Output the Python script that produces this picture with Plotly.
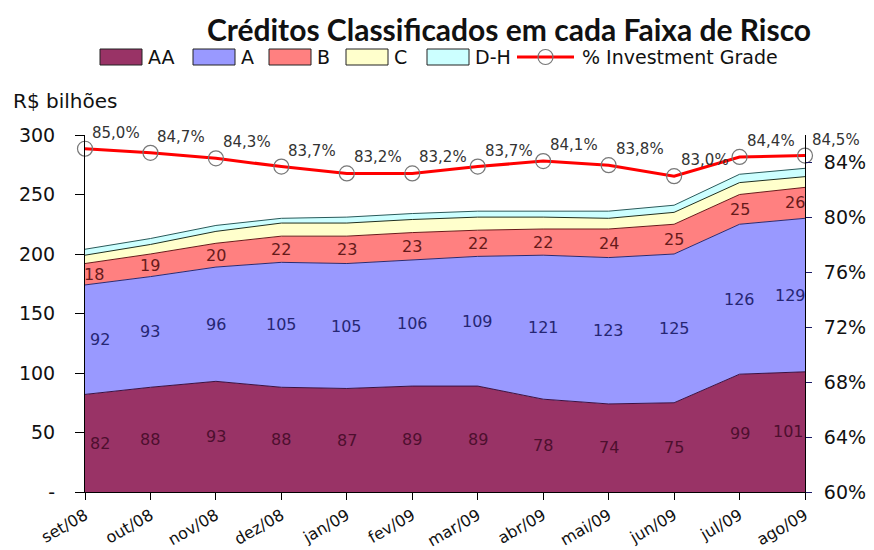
import plotly.graph_objects as go

months = ["set/08", "out/08", "nov/08", "dez/08", "jan/09", "fev/09",
          "mar/09", "abr/09", "mai/09", "jun/09", "jul/09", "ago/09"]
aa = [82, 88, 93, 88, 87, 89, 89, 78, 74, 75, 99, 101]
a = [92, 93, 96, 105, 105, 106, 109, 121, 123, 125, 126, 129]
b = [18, 19, 20, 22, 23, 23, 22, 22, 24, 25, 25, 26]
c = [7, 8, 10, 11, 11, 11, 11, 10, 9, 10, 10, 9]
dh = [5, 5, 5, 4, 5, 5, 5, 5, 6, 6, 7, 7]
ig = [85.0, 84.7, 84.3, 83.7, 83.2, 83.2, 83.7, 84.1, 83.8, 83.0, 84.4, 84.5]

left_ticks = [0, 50, 100, 150, 200, 250, 300]
left_labels = ["-", "50", "100", "150", "200", "250", "300"]
right_ticks = [60, 64, 68, 72, 76, 80, 84]
right_labels = ["60%", "64%", "68%", "72%", "76%", "80%", "84%"]

idx = list(range(len(months)))
FONT = "DejaVu Sans, Arial, sans-serif"

# layout geometry (pixels)
W, H = 874, 550
L, R, T, B = 85, 69, 135, 58
PW, PH = W - L - R, H - T - B


def px(x):
    return (x - L) / PW


def py(y):
    return (H - B - y) / PH


# name, values, fill, boundary line, label colour, first/last label shift
series = [
    ("AA", aa, "#993366", "#3a1040", "#4d0f2e", (15, -17)),
    ("A", a, "#9999FF", "#2a2a70", "#262673", (15, -15)),
    ("B", b, "#FF8080", "#6a1a1a", "#661a1a", (9, -10)),
    ("C", c, "#FFFFCC", "#203020", None, None),
    ("D-H", dh, "#CCFFFF", "#2a5a5a", None, None),
]

fig = go.Figure()
for name, vals, fillc, linec, _, _ in series:
    fig.add_trace(go.Scatter(
        x=idx, y=vals, name=name, stackgroup="one", mode="lines",
        line=dict(color=linec, width=1), fillcolor=fillc,
        hoverinfo="skip", showlegend=False))

fig.add_trace(go.Scatter(
    x=idx, y=ig, name="% Investment Grade", yaxis="y2",
    mode="lines+markers",
    line=dict(color="#FF0000", width=3),
    marker=dict(symbol="circle", size=15, color="rgba(0,0,0,0)",
                line=dict(color="#777777", width=1.2)),
    cliponaxis=False, showlegend=False))

annotations = []
base = [0] * len(idx)
for name, vals, fillc, linec, txtc, shifts in series:
    if txtc:
        for i, v in enumerate(vals):
            xs = 0
            if i == 0:
                xs = shifts[0]
            elif i == len(idx) - 1:
                xs = shifts[1]
            annotations.append(dict(
                x=idx[i], y=base[i] + v / 2, xref="x", yref="y",
                text=str(v), showarrow=False, xshift=xs,
                font=dict(family=FONT, size=16, color=txtc)))
    base = [bb + v for bb, v in zip(base, vals)]

for i, v in enumerate(ig):
    annotations.append(dict(
        x=idx[i], y=v, xref="x", yref="y2",
        text=f"{v:.1f}%".replace(".", ","), showarrow=False,
        xanchor="left", yanchor="middle", xshift=5, yshift=16,
        font=dict(family=FONT, size=15, color="#333333")))

annotations.append(dict(
    x=px(11), y=py(101), xref="paper", yref="paper",
    xanchor="left", yanchor="middle", text="R$ bilhões", showarrow=False,
    font=dict(family=FONT, size=20, color="#111111")))

# manual legend
shapes = []
leg_y = 57
leg_items = [("AA", "#993366", 100), ("A", "#9999FF", 193),
             ("B", "#FF8080", 269), ("C", "#FFFFCC", 346),
             ("D-H", "#CCFFFF", 427)]
for name, col, x0 in leg_items:
    shapes.append(dict(type="rect", xref="paper", yref="paper",
                       x0=px(x0), x1=px(x0 + 42),
                       y0=py(leg_y + 8), y1=py(leg_y - 8),
                       fillcolor=col, line=dict(color="#222222", width=1)))
    annotations.append(dict(
        x=px(x0 + 46), y=py(leg_y), xref="paper", yref="paper",
        xanchor="left", yanchor="middle", text=name, showarrow=False,
        font=dict(family=FONT, size=19, color="#111111")))
shapes.append(dict(type="line", xref="paper", yref="paper",
                   x0=px(517), x1=px(574), y0=py(leg_y), y1=py(leg_y),
                   line=dict(color="#FF0000", width=3)))
shapes.append(dict(type="circle", xref="paper", yref="paper",
                   x0=px(538), x1=px(553), y0=py(leg_y + 7.5),
                   y1=py(leg_y - 7.5),
                   line=dict(color="#777777", width=1.2)))
annotations.append(dict(
    x=px(580), y=py(leg_y), xref="paper", yref="paper",
    xanchor="left", yanchor="middle", text="% Investment Grade",
    showarrow=False, font=dict(family=FONT, size=19, color="#111111")))

fig.update_layout(
    width=W, height=H,
    margin=dict(l=L, r=R, t=T, b=B),
    paper_bgcolor="white", plot_bgcolor="white",
    title=dict(text="<b>Créditos Classificados em cada Faixa de Risco</b>",
               x=509 / W, xref="container", xanchor="center",
               y=1 - 30 / H, yref="container", yanchor="middle",
               font=dict(family="Lato, sans-serif", size=30, color="#111111")),
    showlegend=False,
    xaxis=dict(range=[0, len(idx) - 1], tickmode="array", tickvals=idx,
               ticktext=months, tickangle=-30, showgrid=False,
               showline=True, linecolor="black", linewidth=1,
               ticks="outside", ticklen=7, tickcolor="black",
               tickfont=dict(family=FONT, size=16, color="#111111"),
               zeroline=False, automargin=False),
    yaxis=dict(range=[0, 300], tickmode="array", tickvals=left_ticks,
               ticktext=left_labels, showgrid=False, showline=True,
               linecolor="black", linewidth=1, ticks="outside", ticklen=9,
               tickcolor="black", zeroline=False, automargin=False,
               ticklabelstandoff=16,
               tickfont=dict(family=FONT, size=19, color="#111111")),
    yaxis2=dict(range=[60, 86], overlaying="y", side="right",
                tickmode="array", tickvals=right_ticks, ticktext=right_labels,
                showgrid=False, showline=True, linecolor="black", linewidth=1,
                ticks="outside", ticklen=6, tickcolor="#1a1a66",
                zeroline=False, automargin=False, ticklabelstandoff=8,
                tickfont=dict(family=FONT, size=19, color="#111111")),
    annotations=annotations,
    shapes=shapes,
)

fig.write_html("out.html",
               config={"displayModeBar": False},
               post_script="document.body.style.margin='0';"
                           "document.body.style.overflow='hidden';")
